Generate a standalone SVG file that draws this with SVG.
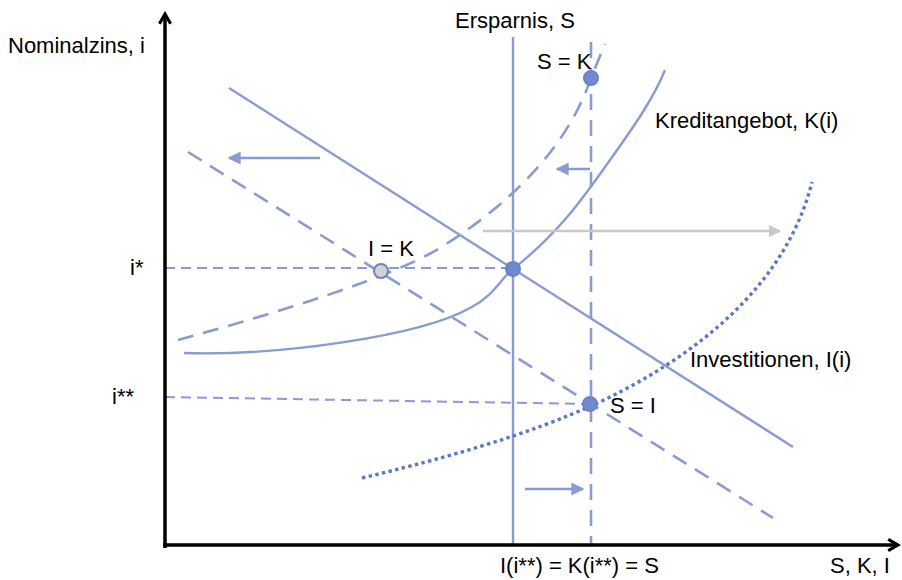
<svg xmlns="http://www.w3.org/2000/svg" width="902" height="580" viewBox="0 0 902 580">
<defs>
<style>
text{font-family:"Liberation Sans",Arial,sans-serif;font-size:22px;fill:#000}
.ln{stroke:#8a9bd4;stroke-width:2.4;fill:none}
.ds{stroke:#8a9bd4;stroke-width:2.6;fill:none;stroke-dasharray:16,10}
.hd{stroke:#8a9bd4;stroke-width:2;fill:none;stroke-dasharray:10,6}
.dt{stroke:#5b78c6;stroke-width:3.4;fill:none;stroke-dasharray:3.4,3.4}
.pt{fill:#7189cf;stroke:#6a82c8;stroke-width:2}
.ar{stroke:#8a9bd4;stroke-width:2.6;fill:none}
</style>
<marker id="ab" viewBox="0 0 10 10" refX="9" refY="5" markerWidth="5" markerHeight="5" orient="auto"><path d="M0,0 L10,5 L0,10 z" fill="#8a9bd4"/></marker>
<marker id="ag" viewBox="0 0 10 10" refX="9" refY="5" markerWidth="5" markerHeight="5" orient="auto"><path d="M0,0 L10,5 L0,10 z" fill="#c8c8c8"/></marker>
<marker id="ax" viewBox="0 0 10 10" refX="8" refY="5" markerWidth="4" markerHeight="4" orient="auto"><path d="M1,1 L8,5 L1,9" fill="none" stroke="#000" stroke-width="2.2"/></marker>
</defs>
<g id="connectors">
<line class="hd" x1="165" y1="268" x2="513" y2="268"/>
<line class="hd" x1="165" y1="397" x2="588" y2="404"/>
<line class="ln" x1="513" y1="37" x2="513" y2="545"/>
<line class="ds" x1="591" y1="42" x2="591" y2="545"/>
<line class="ln" x1="229" y1="88" x2="793" y2="447"/>
<line class="ds" x1="188" y1="152" x2="773" y2="518"/>
<path class="ln" d="M184,353 C280,356 420,336 470,308 C495,295 500,279 513,269 C560,232 583,198 610,160 C638,121 655,95 665,70"/>
<path class="ds" d="M178,340 C280,312 390,278 440,248 C520,198 570,140 591,78 L605,44"/>
<path class="dt" d="M362,478 C480,450 560,423 620,392 C720,340 790,270 812,182"/>
<line class="ar" x1="320" y1="158" x2="229" y2="158" marker-end="url(#ab)"/>
<line class="ar" x1="590" y1="169" x2="557" y2="169" marker-end="url(#ab)"/>
<line stroke="#c8c8c8" stroke-width="2.5" x1="483" y1="231" x2="780" y2="231" marker-end="url(#ag)"/>
<line class="ar" x1="525" y1="489" x2="583" y2="489" marker-end="url(#ab)"/>
<line stroke="#000" stroke-width="3.5" x1="165" y1="548" x2="165" y2="14" marker-end="url(#ax)"/>
<line stroke="#000" stroke-width="3.5" x1="163" y1="545" x2="898" y2="545" marker-end="url(#ax)"/>
</g>
<g id="p-sk"><circle class="pt" cx="591" cy="78" r="7"/></g>
<g id="p-eq"><circle class="pt" cx="513" cy="269" r="7"/></g>
<g id="p-ik"><circle cx="381" cy="271" r="7" fill="#d3d3d3" stroke="#6a82c8" stroke-width="2"/></g>
<g id="p-si"><circle class="pt" cx="590" cy="404" r="7"/></g>
<g id="labels">
<text x="8" y="53">Nominalzins, i</text>
<text x="455" y="28">Ersparnis, S</text>
<text x="537" y="69">S = K</text>
<text x="655" y="128">Kreditangebot, K(i)</text>
<text x="130" y="275">i*</text>
<text x="368" y="256">I = K</text>
<text x="112" y="404">i**</text>
<text x="690" y="367">Investitionen, I(i)</text>
<text x="610" y="413">S = I</text>
<text x="500" y="573">I(i**) = K(i**) = S</text>
<text x="830" y="573">S, K, I</text>
</g>
</svg>
